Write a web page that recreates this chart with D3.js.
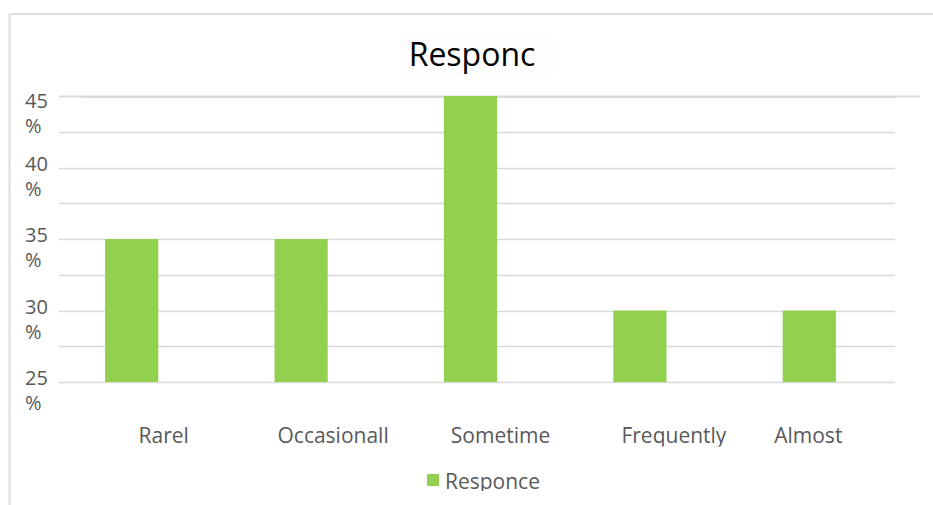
<!DOCTYPE html>
<html>
<head>
<meta charset="utf-8">
<script src="https://cdn.jsdelivr.net/npm/d3@7/dist/d3.min.js"></script>
<style>
  html, body { margin: 0; padding: 0; background: #fff; }
  svg { display: block; font-family: "Open Sans", sans-serif; }
</style>
</head>
<body>
<svg id="chart" width="933" height="505"></svg>
<script>
// Survey answers, share of respondents per frequency bucket
const categories = ["Rarel", "Occasionall", "Sometime", "Frequently", "Almost"];
const responce = [35, 35, 45, 30, 30];
const seriesName = "Responce";
const chartTitle = "Responc";
const yTicks = [25, 30, 35, 40, 45];
const yGrid = [25, 27.5, 30, 32.5, 35, 37.5, 40, 42.5, 45];

const svg = d3.select("#chart");
const green = "#92d050";
const grey = "#595959";
const gridColor = "#d9d9d9";

// chart area frame
svg.append("path")
  .attr("d", "M9.5,520 V14 H940")
  .attr("fill", "none")
  .attr("stroke", "#dedede")
  .attr("stroke-width", 2);

const y = d3.scaleLinear().domain([25, 45]).range([382, 96]);
const x = d3.scaleBand()
  .domain(categories)
  .range([47, 894])
  .paddingInner(0.686)
  .paddingOuter(0.343);

// gridlines
const grid = svg.append("g");
grid.selectAll("line")
  .data(yGrid)
  .join("line")
  .attr("x1", 59)
  .attr("x2", d => d === 45 ? 920 : 895)
  .attr("y1", d => Math.round(y(d)) + 0.5)
  .attr("y2", d => Math.round(y(d)) + 0.5)
  .attr("stroke", gridColor)
  .attr("stroke-width", d => d === 45 ? 2 : 1.5);
grid.append("line")
  .attr("x1", 82).attr("x2", 895)
  .attr("y1", Math.round(y(45)) + 1.5).attr("y2", Math.round(y(45)) + 1.5)
  .attr("stroke", gridColor).attr("stroke-width", 1);

// y tick labels, wrapped onto two lines ("45" / "%")
const yLab = svg.append("g")
  .attr("fill", grey)
  .attr("font-size", 20);
yTicks.forEach(v => {
  const base = Math.max(y(v) + 3, 108);
  const t = yLab.append("text").attr("x", 25).attr("y", base);
  t.append("tspan").attr("x", 25).text(v);
  t.append("tspan").attr("x", 25).attr("dy", 25).text("%");
});

// bars
svg.append("g")
  .selectAll("rect")
  .data(categories.map((c, i) => ({ c, v: responce[i] })))
  .join("rect")
  .attr("x", d => x(d.c))
  .attr("width", x.bandwidth())
  .attr("y", d => y(d.v))
  .attr("height", d => y(25) - y(d.v))
  .attr("fill", green);

// category labels, clipped at the bottom of the label row
svg.append("clipPath").attr("id", "catClip")
  .append("rect").attr("x", 0).attr("y", 400).attr("width", 933).attr("height", 46.5);
const labelNudge = [32, 32, 30, 34, -1];
svg.append("g")
  .attr("clip-path", "url(#catClip)")
  .attr("fill", grey)
  .attr("font-size", 21)
  .attr("text-anchor", "middle")
  .selectAll("text")
  .data(categories)
  .join("text")
  .attr("x", (d, i) => x(d) + x.bandwidth() / 2 + labelNudge[i])
  .attr("y", 443)
  .text(d => d);

// title
svg.append("rect")
  .attr("x", 402).attr("y", 40).attr("width", 150).attr("height", 32)
  .attr("fill", "#fff").attr("stroke", "#fafafa");
svg.append("text")
  .attr("x", 472).attr("y", 66)
  .attr("text-anchor", "middle")
  .attr("font-size", 32)
  .attr("fill", "#000")
  .text(chartTitle);

// legend
svg.append("clipPath").attr("id", "legClip")
  .append("rect").attr("x", 0).attr("y", 460).attr("width", 933).attr("height", 31);
const leg = svg.append("g").attr("clip-path", "url(#legClip)");
leg.append("rect")
  .attr("x", 427).attr("y", 474).attr("width", 12).attr("height", 12)
  .attr("fill", green);
leg.append("text")
  .attr("x", 445).attr("y", 489)
  .attr("font-size", 21)
  .attr("fill", grey)
  .text(seriesName);
</script>
</body>
</html>
